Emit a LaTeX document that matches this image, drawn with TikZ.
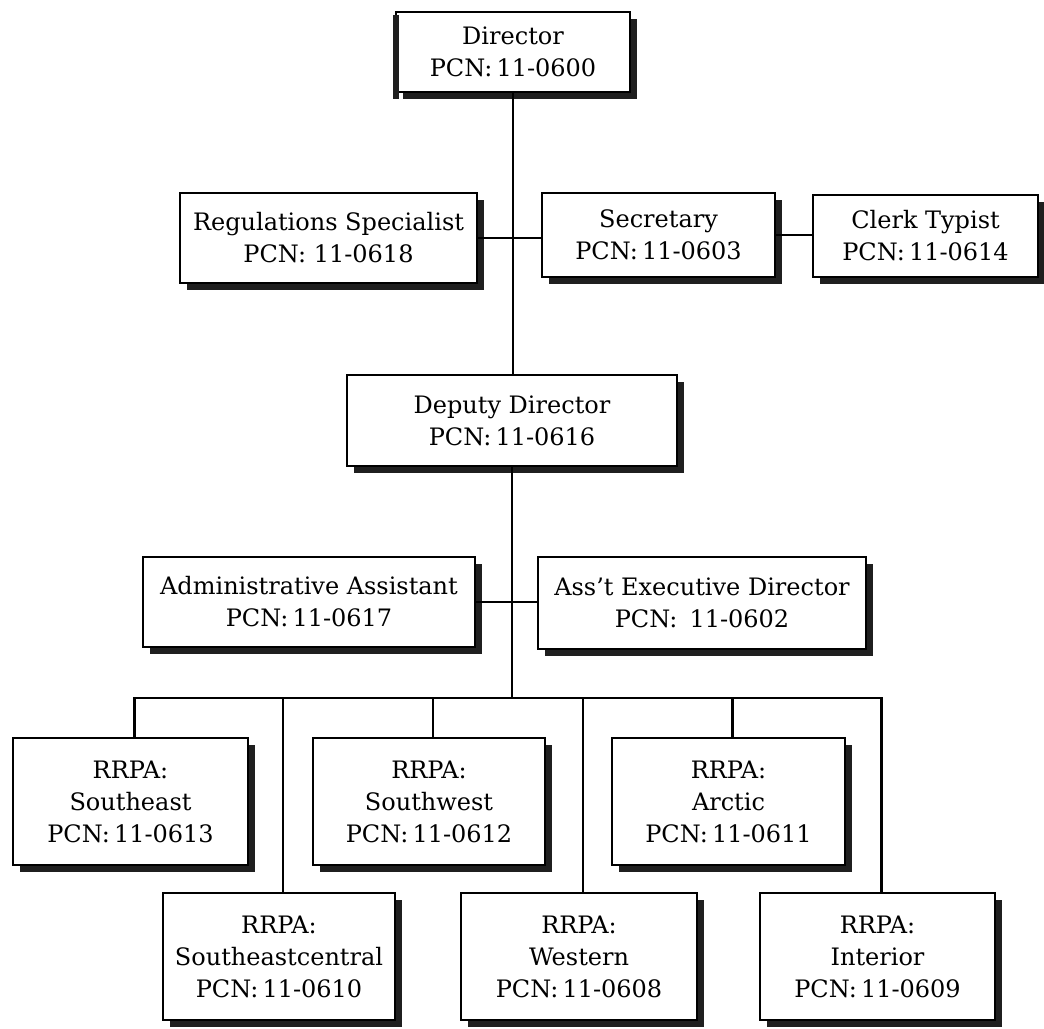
\documentclass[tikz,border=0pt]{standalone}
\usepackage{fontspec}
\setmainfont{DejaVu Serif}
\usetikzlibrary{shadows}
\begin{document}
\begin{tikzpicture}[x=0.5pt,y=-0.5pt,
  post/.style={draw=black, line width=1.1pt, fill=white, align=center,
    inner sep=0pt, font=\fontsize{12}{16}\selectfont,
    drop shadow={shadow xshift=3.5pt, shadow yshift=-3.5pt,
      fill=black!88, opacity=1}},
  wide/.style={post, minimum width=#1},
  row/.style={minimum height=#1},
  link/.style={draw=black, line width=1.1pt}]

\useasboundingbox[fill=white] (0,0) rectangle (1044,1028);

% top office
\node[wide=117pt, row=40pt] (dir) at (513,52) {Director\\PCN:\,11-0600};
\draw[line width=3pt, black!88] ([xshift=0.6pt,yshift=-2pt]dir.north west) -- ([xshift=0.6pt,yshift=-3pt]dir.south west);

% staff reporting to the director
\node[wide=148.5pt, row=45pt] (regs)  at (328.5,238) {Regulations Specialist\\PCN: 11-0618};
\node[wide=116.5pt, row=42pt] (sec)   at (658.5,235) {Secretary\\PCN:\,11-0603};
\node[wide=112.5pt, row=41pt] (clerk) at (925.5,236) {Clerk Typist\\PCN:\,11-0614};

% deputy and staff
\node[wide=165pt, row=45.5pt] (dep) at (512,420.5) {Deputy Director\\PCN:\,11-0616};
\node[wide=166pt, row=45pt] (adm) at (309,602) {Administrative Assistant\\PCN:\,11-0617};
\node[wide=164pt, row=46pt] (exe) at (702,603) {Ass't Executive Director\\PCN:\enspace11-0602};

% regional offices, upper row
\node[wide=117.5pt, row=63.5pt] (se)  at (130.5,801.5) {RRPA:\\Southeast\\PCN:\,11-0613};
\node[wide=116pt,   row=63.5pt] (sw)  at (429,801.5)   {RRPA:\\Southwest\\PCN:\,11-0612};
\node[wide=116.5pt, row=63.5pt] (arc) at (728.5,801.5) {RRPA:\\Arctic\\PCN:\,11-0611};

% regional offices, lower row
\node[wide=116pt,   row=63.5pt] (sec2) at (279,956.5)   {RRPA:\\Southeastcentral\\PCN:\,11-0610};
\node[wide=118pt,   row=63.5pt] (wes)  at (579,956.5)   {RRPA:\\Western\\PCN:\,11-0608};
\node[wide=117.5pt, row=63.5pt] (int)  at (877.5,956.5) {RRPA:\\Interior\\PCN:\,11-0609};

% trunk and side links
\coordinate (bus) at (512,698);
\draw[link] (dir.south) -- (dir.south |- dep.north);
\draw[link] (regs.east) -- (regs.east -| sec.west);
\draw[link] (sec.east) -- (sec.east -| clerk.west);
\draw[link] (dep.south) -- (bus);
\draw[link] (adm.east) -- (adm.east -| exe.west);

% distribution bus and drops to regional offices
\draw[link] ([xshift=2pt]se.north) |- (bus) -| ([xshift=2pt]int.north);
\foreach \n in {sw,arc,sec2,wes}
  \draw[link] ([xshift=2pt]\n.north) -- ([xshift=2pt]\n.north |- bus);
\end{tikzpicture}
\end{document}
